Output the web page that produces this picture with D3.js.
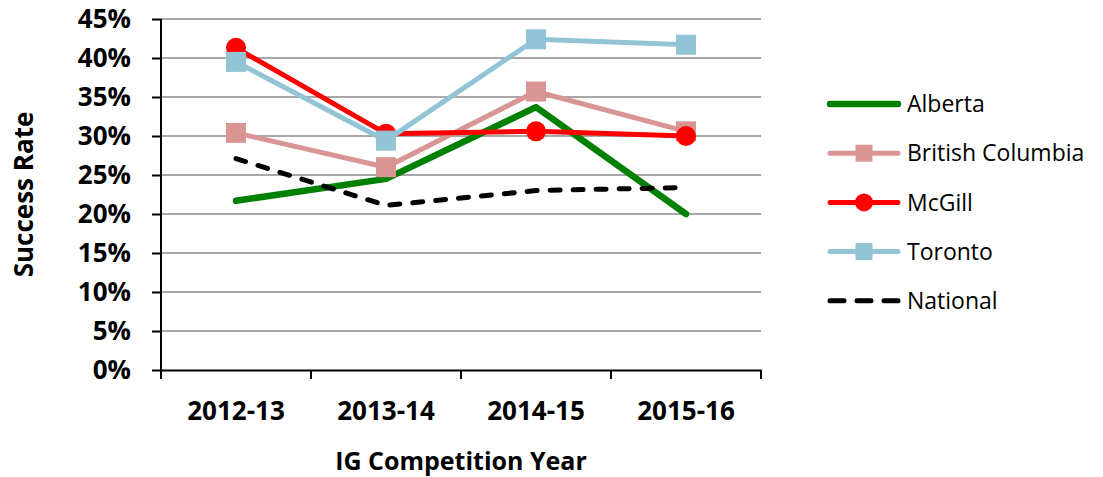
<!DOCTYPE html>
<html>
<head>
<meta charset="utf-8">
<script src="https://cdn.jsdelivr.net/npm/d3@7"></script>
<style>
  body { margin: 0; background: #fff; }
  svg text { font-family: "Open Sans", "Noto Sans", sans-serif; }
</style>
</head>
<body>
<div id="chart"></div>
<script>
const years = ['2012-13', '2013-14', '2014-15', '2015-16'];
const alberta = [0.217, 0.245, 0.337, 0.200];
const britishColumbia = [0.304, 0.260, 0.357, 0.306];
const mcgill = [0.413, 0.303, 0.306, 0.300];
const toronto = [0.395, 0.294, 0.424, 0.417];
const national = [0.271, 0.211, 0.230, 0.234];
const yTicks = [0, 0.05, 0.10, 0.15, 0.20, 0.25, 0.30, 0.35, 0.40, 0.45];

const series = [
    { name: 'Alberta', values: alberta, color: '#008000', width: 6.5, marker: null },
    { name: 'British Columbia', values: britishColumbia, color: '#D99594', width: 5, marker: 'square' },
    { name: 'McGill', values: mcgill, color: '#FF0000', width: 5, marker: 'circle' },
    { name: 'Toronto', values: toronto, color: '#92C4D6', width: 5, marker: 'square' },
    { name: 'National', values: national, color: '#000000', width: 5, marker: null, dash: '10,13', legendDash: '14,13' },
];

const width = 1103;
const height = 477;
const margin = { top: 19, left: 161, right: 342, bottom: 107 };

const svg = d3.select('#chart').append('svg')
    .attr('width', width)
    .attr('height', height);

const x = d3.scaleBand()
    .domain(years)
    .range([margin.left, width - margin.right])
    .padding(0);

const y = d3.scaleLinear()
    .domain([0, 0.45])
    .range([height - margin.bottom, margin.top]);

// gridlines
svg.append('g')
    .selectAll('line')
    .data(yTicks.filter(d => d > 0))
    .join('line')
    .attr('x1', margin.left)
    .attr('x2', width - margin.right)
    .attr('y1', d => y(d))
    .attr('y2', d => y(d))
    .attr('stroke', '#8a8a8a')
    .attr('stroke-width', 1.5);

// y axis
const yAxis = svg.append('g')
    .attr('transform', `translate(${margin.left},0)`)
    .call(d3.axisLeft(y).tickValues(yTicks).tickFormat(d3.format('.0%')).tickSize(9).tickPadding(21));
yAxis.select('.domain').attr('stroke', '#000').attr('stroke-width', 2)
    .attr('d', `M0,${y(0.45)}V${y(0) + 9}`);
yAxis.selectAll('.tick line').attr('stroke', '#000').attr('stroke-width', 2);
yAxis.selectAll('.tick text')
    .attr('font-size', 26)
    .attr('font-weight', 'bold')
    .attr('fill', '#000');

// x axis
const xAxis = svg.append('g')
    .attr('transform', `translate(0,${y(0)})`)
    .call(d3.axisBottom(x).tickSize(0).tickPadding(32));
xAxis.select('.domain').attr('stroke', '#000').attr('stroke-width', 2);
xAxis.selectAll('.tick text')
    .attr('font-size', 26)
    .attr('font-weight', 'bold')
    .attr('fill', '#000');

// tick marks between categories
const edges = years.map(d => x(d)).concat([x(years[years.length - 1]) + x.bandwidth()]);
xAxis.selectAll('.edge')
    .data(edges)
    .join('line')
    .attr('class', 'edge')
    .attr('x1', d => d)
    .attr('x2', d => d)
    .attr('y1', 0)
    .attr('y2', 9)
    .attr('stroke', '#000')
    .attr('stroke-width', 2);

// axis titles
svg.append('text')
    .attr('x', (margin.left + width - margin.right) / 2)
    .attr('y', 470)
    .attr('text-anchor', 'middle')
    .attr('font-size', 25)
    .attr('font-weight', 'bold')
    .text('IG Competition Year');

svg.append('text')
    .attr('transform', `translate(33,${(margin.top + y(0)) / 2}) rotate(-90)`)
    .attr('text-anchor', 'middle')
    .attr('font-size', 26)
    .attr('font-weight', 'bold')
    .text('Success Rate');

const cx = d => x(d) + x.bandwidth() / 2;

const line = d3.line()
    .x((d, i) => cx(years[i]))
    .y(d => y(d));

function drawMarker(g, type, px, py, color, size) {
    if (type === 'square') {
        g.append('rect')
            .attr('x', px - size / 2)
            .attr('y', py - size / 2)
            .attr('width', size)
            .attr('height', size)
            .attr('fill', color);
    } else if (type === 'circle') {
        g.append('circle')
            .attr('cx', px)
            .attr('cy', py)
            .attr('r', size / 2)
            .attr('fill', color);
    }
}

series.forEach(s => {
    const g = svg.append('g');
    g.append('path')
        .datum(s.values)
        .attr('d', line)
        .attr('fill', 'none')
        .attr('stroke', s.color)
        .attr('stroke-width', s.width)
        .attr('stroke-linecap', 'round')
        .attr('stroke-linejoin', 'round')
        .attr('stroke-dasharray', s.dash || null);
    if (s.marker) {
        s.values.forEach((v, i) => drawMarker(g, s.marker, cx(years[i]), y(v), s.color, 20));
    }
});

// legend
const legend = svg.append('g').attr('transform', 'translate(828,104)');
series.forEach((s, i) => {
    const row = legend.append('g').attr('transform', `translate(0,${i * 49.2})`);
    row.append('line')
        .attr('x1', 2)
        .attr('x2', 70)
        .attr('y1', 0)
        .attr('y2', 0)
        .attr('stroke', s.color)
        .attr('stroke-width', s.width)
        .attr('stroke-linecap', 'round')
        .attr('stroke-dasharray', s.legendDash || null);
    if (s.marker) drawMarker(row, s.marker, 36, 0, s.color, s.marker === 'circle' ? 18 : 17);
    row.append('text')
        .attr('x', 79)
        .attr('y', 0)
        .attr('dy', '0.36em')
        .attr('font-size', 23)
        .text(s.name);
});
</script>
</body>
</html>
